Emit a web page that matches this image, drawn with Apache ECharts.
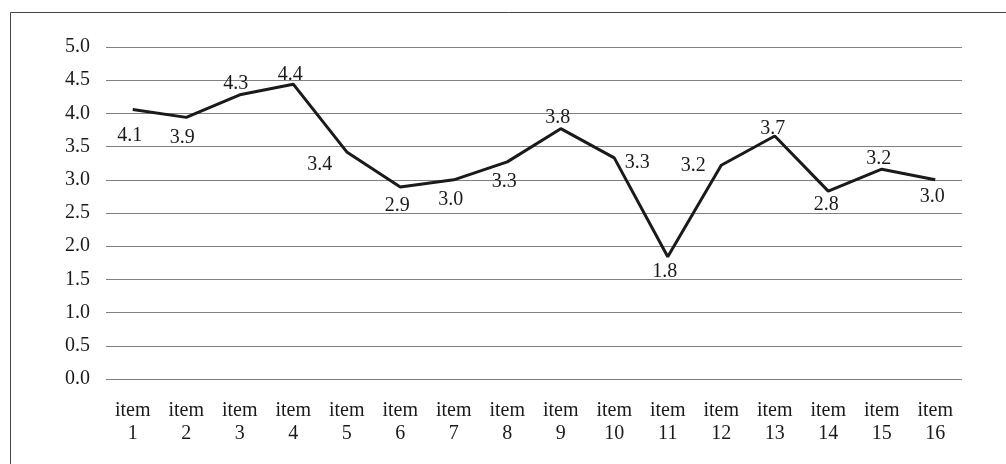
<!DOCTYPE html>
<html><head><meta charset="utf-8">
<script src="https://cdn.jsdelivr.net/npm/echarts@6/dist/echarts.min.js"></script>
<style>html,body{margin:0;padding:0;background:#fff}#c{width:1006px;height:464px}</style>
</head><body><div id="c"></div>
<script>
var categories = ["item\n1","item\n2","item\n3","item\n4","item\n5","item\n6","item\n7","item\n8","item\n9","item\n10","item\n11","item\n12","item\n13","item\n14","item\n15","item\n16"];
var values = [4.06, 3.94, 4.28, 4.44, 3.42, 2.89, 3.0, 3.27, 3.77, 3.33, 1.84, 3.22, 3.66, 2.83, 3.16, 3.0];
var yTicks = [0, 0.5, 1, 1.5, 2, 2.5, 3, 3.5, 4, 4.5, 5];

// label offsets (style only) relative to each point: [dx, dy]
var labelShift = [[-3,26],[-4,20],[-4,-11],[-3,-9],[-27,13],[-3,19],[-3,20],[-3,20],
                  [-3,-11],[23,5],[-3,15],[-28,1],[-2,-7],[-2,14],[-3,-10],[-3,17]];
var font = '"Liberation Serif","Times New Roman",serif';
var chart = echarts.init(document.getElementById('c'));
chart.setOption({
  animation:false,
  graphic:[{type:'rect', shape:{x:10.5,y:12.5,width:1100,height:600}, style:{fill:'none', stroke:'#444', lineWidth:1}}],
  grid:{left:106, right:44, top:47, bottom:85},
  xAxis:{type:'category', data:categories, boundaryGap:true,
    axisLine:{show:false}, axisTick:{show:false},
    axisLabel:{fontFamily:font, fontSize:20, color:'#1a1a1a', lineHeight:23, margin:20, interval:0}},
  yAxis:{type:'value', min:yTicks[0], max:yTicks[yTicks.length-1], interval:0.5,
    axisLine:{show:false}, axisTick:{show:false},
    axisLabel:{fontFamily:font, fontSize:20, color:'#1a1a1a', margin:16, formatter:function(v){return v.toFixed(1);}},
    splitLine:{lineStyle:{color:'#808080', width:1}}},
  series:[{type:'line', symbol:'circle', symbolSize:0, showSymbol:true,
    lineStyle:{color:'#1a1a1a', width:3},
    itemStyle:{color:'#1a1a1a'},
    data:values.map(function(v,i){
      return {value:v, label:{show:true, position:'inside', offset:labelShift[i],
        align:'center', verticalAlign:'middle',
        fontFamily:font, fontSize:20, color:'#1a1a1a', formatter:(Math.round(v*10)/10).toFixed(1)}};
    })
  }]
});
</script></body></html>
